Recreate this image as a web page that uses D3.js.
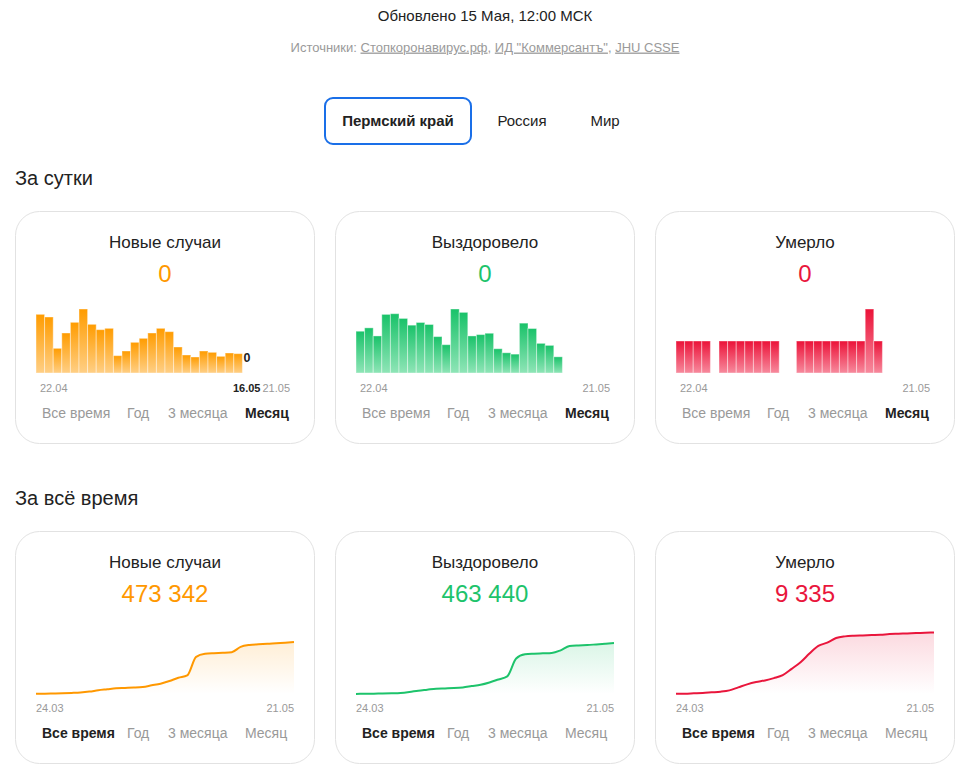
<!DOCTYPE html>
<html lang="ru">
<head>
<meta charset="UTF-8">
<title>Коронавирус — Пермский край</title>
<script src="https://cdn.jsdelivr.net/npm/d3@7"></script>
<style>
  body { margin: 0; background: #fff; }
  svg { display: block; font-family: "Liberation Sans", Arial, sans-serif; }
  .card { fill: #fff; stroke: #e2e2e2; stroke-width: 1; }
  .link { text-decoration: underline; }
</style>
</head>
<body>
<svg id="page" width="969" height="777"></svg>
<script>
// ---- data ----
const regionTabs = ["Пермский край", "Россия", "Мир"];
const periods = ["Все время", "Год", "3 месяца", "Месяц"];
const cardTitles = ["Новые случаи", "Выздоровело", "Умерло"];
const cardColors = ["#ff9800", "#1dc36b", "#e9163c"];

// за сутки (22.04 – 15.05, 16.05 = 0)
const dailyCases = [88, 84, 37, 60, 76, 96, 73, 65, 67, 26, 33, 46, 52, 60, 67, 62, 39, 27, 24, 33, 31, 25, 30, 29, 0];
const dailyRecovered = [62, 67, 55, 87, 88, 81, 71, 75, 72, 54, 42, 95, 90, 55, 57, 59, 36, 30, 28, 74, 66, 44, 41, 24];
const dailyDeaths = [1, 1, 1, 1, 0, 1, 1, 1, 1, 1, 1, 1, 0, 0, 1, 1, 1, 1, 1, 1, 1, 1, 2, 1];
const dailyNow = ["0", "0", "0"];
const dailyTicks = ["22.04", "21.05"];

// за всё время, каждые 2 дня с 24.03 по 21.05
const totalCases = [1500, 3000, 4500, 7000, 10000, 14000, 22000, 34000, 43000, 52000, 55000, 58000, 64000, 79000, 94000,
  118000, 148000, 169000, 338000, 365000, 371000, 374000, 380000, 428000, 446000, 452000, 456000, 462000, 467000, 473342];
const totalRecovered = [1000, 1500, 3000, 4500, 6000, 9000, 18000, 30000, 39000, 48000, 51000, 54000, 60000, 72000, 84000,
  105000, 132000, 160000, 322000, 361000, 367000, 370000, 373000, 397000, 436000, 442000, 445000, 451000, 457000, 463440];
const totalDeaths = [30, 50, 100, 150, 250, 350, 550, 1000, 1460, 1810, 2060, 2410, 2860, 3810, 4820,
  6120, 7280, 7780, 8480, 8730, 8830, 8880, 8930, 8980, 9080, 9130, 9180, 9230, 9290, 9335];
const totalMax = [600000, 600000, 10000];
const totalTicks = ["24.03", "21.05"];

const fmt = d3.format(",");
const numStr = v => fmt(v).replace(/,/g, " ");

const svg = d3.select("#page");
const defs = svg.append("defs");

// header
svg.append("text").attr("x", 485).attr("y", 16).attr("dy", "0.35em")
  .attr("text-anchor", "middle").attr("font-size", 15).attr("fill", "#222")
  .text("Обновлено 15 Мая, 12:00 МСК");

const src = svg.append("text").attr("x", 485).attr("y", 47).attr("dy", "0.35em")
  .attr("text-anchor", "middle").attr("font-size", 13).attr("fill", "#9a9a9a");
src.append("tspan").text("Источники: ");
src.append("tspan").attr("class", "link").text("Стопкоронавирус.рф");
src.append("tspan").text(", ");
src.append("tspan").attr("class", "link").text("ИД \"Коммерсантъ\"");
src.append("tspan").text(", ");
src.append("tspan").attr("class", "link").text("JHU CSSE");

// region tabs
svg.append("rect").attr("x", 325).attr("y", 98).attr("width", 146).attr("height", 46)
  .attr("rx", 8).attr("fill", "none").attr("stroke", "#1a6fe8").attr("stroke-width", 2);
const tabX = [398, 522, 605];
regionTabs.forEach((t, i) => {
  svg.append("text").attr("x", tabX[i]).attr("y", 121).attr("dy", "0.35em")
    .attr("text-anchor", "middle").attr("font-size", 15)
    .attr("font-weight", i === 0 ? "bold" : "normal").attr("fill", "#222").text(t);
});

// section titles
svg.append("text").attr("x", 15).attr("y", 178).attr("dy", "0.35em")
  .attr("font-size", 20).attr("fill", "#222").text("За сутки");
svg.append("text").attr("x", 15).attr("y", 498).attr("dy", "0.35em")
  .attr("font-size", 20).attr("fill", "#222").text("За всё время");

const cardX = [15, 335, 655];
const cardW = 300, cardH = 233;
const periodX = [27, 112, 153, 230];

function card(i, top, valueText, activePeriod) {
  const g = svg.append("g").attr("transform", `translate(${cardX[i]},${top})`);
  g.append("rect").attr("class", "card").attr("x", 0.5).attr("y", 0.5)
    .attr("width", cardW - 1).attr("height", cardH - 1).attr("rx", 24);
  g.append("text").attr("x", cardW / 2).attr("y", 31).attr("dy", "0.35em")
    .attr("text-anchor", "middle").attr("font-size", 17).attr("fill", "#222").text(cardTitles[i]);
  g.append("text").attr("x", cardW / 2).attr("y", 63).attr("dy", "0.35em")
    .attr("text-anchor", "middle").attr("font-size", 24).attr("fill", cardColors[i]).text(valueText);
  periods.forEach((p, k) => {
    g.append("text").attr("x", periodX[k]).attr("y", 202).attr("dy", "0.35em")
      .attr("font-size", 14)
      .attr("font-weight", k === activePeriod ? "bold" : "normal")
      .attr("fill", k === activePeriod ? "#222" : "#999").text(p);
  });
  return g;
}

// ---- daily bars ----
const dailyDays = d3.timeDay.range(new Date(2020, 3, 22), new Date(2020, 4, 22));
const x0 = 21, x1 = 279;
const barX = d3.scaleBand().domain(dailyDays.map(d => +d)).range([x0, x1]).padding(0);
const barBase = 162, barH = 64;
const gradStops = [["#ff9c00", "#ffcf85"], ["#19c269", "#8fe5b7"], ["#eb1238", "#f78a9d"]];
const dailySeries = [dailyCases, dailyRecovered, dailyDeaths];

dailySeries.forEach((vals, i) => {
  const gid = "bar" + i;
  const lg = defs.append("linearGradient").attr("id", gid).attr("x1", 0).attr("y1", 0).attr("x2", 0).attr("y2", 1);
  lg.append("stop").attr("offset", "0%").attr("stop-color", gradStops[i][0]);
  lg.append("stop").attr("offset", "100%").attr("stop-color", gradStops[i][1]);

  const g = card(i, 211, dailyNow[i], 3);
  const y = d3.scaleLinear().domain([0, d3.max(vals)]).range([barBase, barBase - barH]);
  g.selectAll("rect.bar").data(vals).join("rect").attr("class", "bar")
    .attr("x", (d, k) => barX(+dailyDays[k]))
    .attr("width", barX.bandwidth())
    .attr("y", d => y(d))
    .attr("height", d => barBase - y(d))
    .attr("fill", `url(#${gid})`)
    .attr("stroke", "rgba(255,255,255,0.4)").attr("stroke-width", 1);

  g.append("text").attr("x", x0 + 4).attr("y", 177).attr("dy", "0.35em")
    .attr("font-size", 11).attr("fill", "#999").text(dailyTicks[0]);
  g.append("text").attr("x", x1 - 4).attr("y", 177).attr("dy", "0.35em").attr("text-anchor", "end")
    .attr("font-size", 11).attr("fill", "#999").text(dailyTicks[1]);

  if (i === 0) {
    // highlighted last day
    const k = vals.length - 1;
    const bx = barX(+dailyDays[k]);
    g.append("text").attr("x", bx + 1).attr("y", barBase - 15).attr("dy", "0.35em")
      .attr("font-size", 12.5).attr("font-weight", "bold").attr("fill", "#222").text(numStr(vals[k]));
    g.append("text").attr("x", bx + barX.bandwidth() / 2).attr("y", 177).attr("dy", "0.35em")
      .attr("text-anchor", "middle").attr("font-size", 11).attr("font-weight", "bold").attr("fill", "#222")
      .text(d3.timeFormat("%d.%m")(dailyDays[k]));
  }
});

// ---- cumulative lines ----
const tStart = new Date(2020, 2, 24);
const totalDays = totalCases.map((d, k) => d3.timeDay.offset(tStart, 2 * k));
const lx = d3.scaleTime().domain(d3.extent(totalDays)).range([x0, x1]);
const lineBase = 163, lineH = 66;
const totalSeries = [totalCases, totalRecovered, totalDeaths];

totalSeries.forEach((vals, i) => {
  const gid = "area" + i;
  const lg = defs.append("linearGradient").attr("id", gid).attr("x1", 0).attr("y1", 0).attr("x2", 0).attr("y2", 1);
  lg.append("stop").attr("offset", "0%").attr("stop-color", cardColors[i]).attr("stop-opacity", 0.16);
  lg.append("stop").attr("offset", "100%").attr("stop-color", cardColors[i]).attr("stop-opacity", 0);

  const g = card(i, 531, numStr(vals[vals.length - 1]), 0);
  const y = d3.scaleLinear().domain([0, totalMax[i]]).range([lineBase, lineBase - lineH]);
  const pts = vals.map((v, k) => [totalDays[k], v]);

  g.append("path").datum(pts)
    .attr("fill", `url(#${gid})`)
    .attr("d", d3.area().x(d => lx(d[0])).y0(lineBase).y1(d => y(d[1])).curve(d3.curveMonotoneX));
  g.append("path").datum(pts)
    .attr("fill", "none").attr("stroke", cardColors[i]).attr("stroke-width", 2)
    .attr("d", d3.line().x(d => lx(d[0])).y(d => y(d[1])).curve(d3.curveMonotoneX));

  g.append("text").attr("x", x0).attr("y", 177).attr("dy", "0.35em")
    .attr("font-size", 11).attr("fill", "#999").text(totalTicks[0]);
  g.append("text").attr("x", x1).attr("y", 177).attr("dy", "0.35em").attr("text-anchor", "end")
    .attr("font-size", 11).attr("fill", "#999").text(totalTicks[1]);
});
</script>
</body>
</html>
